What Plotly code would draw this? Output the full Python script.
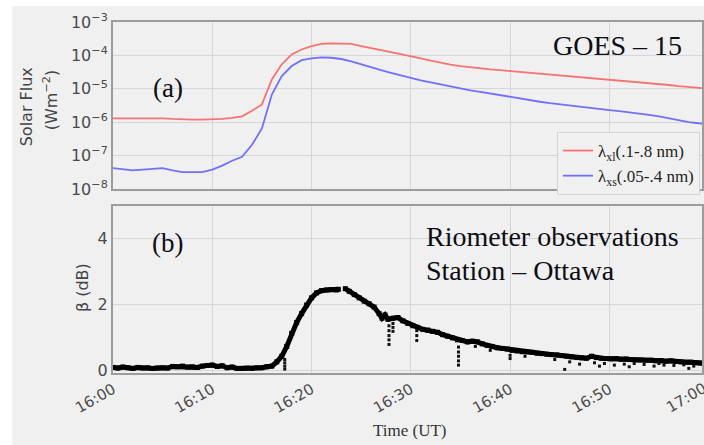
import plotly.graph_objects as go

# ---------------- data ----------------
# GOES-15 X-ray flux, one sample per minute from 16:00 (minutes after 16:00)
goes_min = list(range(0, 61))
flux_xl = [1.3e-6, 1.3e-6, 1.3e-6, 1.3e-6, 1.32e-6, 1.3e-6, 1.25e-6, 1.2e-6, 1.2e-6, 1.2e-6,
           1.2e-6, 1.25e-6, 1.35e-6, 1.5e-6, 2.2e-6, 3.4e-6, 1.9e-5, 5.4e-5, 1.07e-4, 1.5e-4,
           1.9e-4, 2.2e-4, 2.3e-4, 2.3e-4, 2.2e-4, 1.9e-4, 1.7e-4, 1.45e-4, 1.25e-4, 1.1e-4,
           9.5e-5, 8.2e-5, 7.0e-5, 6.0e-5, 5.3e-5, 4.8e-5, 4.4e-5, 4.1e-5, 3.8e-5, 3.6e-5,
           3.4e-5, 3.2e-5, 3.0e-5, 2.8e-5, 2.6e-5, 2.45e-5, 2.3e-5, 2.2e-5, 2.05e-5, 1.95e-5,
           1.85e-5, 1.75e-5, 1.65e-5, 1.55e-5, 1.5e-5, 1.4e-5, 1.3e-5, 1.2e-5, 1.12e-5, 1.05e-5,
           1.0e-5]
flux_xs = [4.2e-8, 3.9e-8, 3.6e-8, 3.8e-8, 4.0e-8, 4.2e-8, 3.6e-8, 3.2e-8, 3.2e-8, 3.2e-8,
           3.8e-8, 5.0e-8, 7.0e-8, 9.2e-8, 2.1e-7, 6.5e-7, 6.7e-6, 2.4e-5, 4.8e-5, 7.2e-5,
           8.2e-5, 8.7e-5, 8.5e-5, 7.8e-5, 6.6e-5, 5.3e-5, 4.3e-5, 3.6e-5, 3.0e-5, 2.5e-5,
           2.05e-5, 1.8e-5, 1.55e-5, 1.35e-5, 1.15e-5, 1.0e-5, 9.0e-6, 8.1e-6, 7.2e-6, 6.3e-6,
           5.6e-6, 5.0e-6, 4.5e-6, 4.1e-6, 3.7e-6, 3.4e-6, 3.1e-6, 2.85e-6, 2.6e-6, 2.45e-6,
           2.3e-6, 2.15e-6, 2.0e-6, 1.8e-6, 1.65e-6, 1.5e-6, 1.3e-6, 1.15e-6, 1.0e-6, 9.3e-7,
           8.8e-7]

# Ottawa riometer absorption (dB); None marks the data gap
rio_min = [0.0, 0.5, 1.0, 1.5, 2.0, 2.5, 3.0, 3.5, 4.0, 4.5, 5.0, 5.5, 6.0, 6.5, 7.0, 7.5,
           8.0, 8.5, 9.0, 9.5, 10.0, 10.5, 11.0, 11.5, 12.0, 12.5, 13.0, 13.5, 14.0, 14.5,
           15.0, 15.5, 16.0, 16.5, 17.0, 17.5, 18.0, 18.5, 19.0, 19.5, 20.0, 20.5, 21.0,
           21.5, 22.0, 22.5, 22.7, 23.0, 23.4, 23.8, 24.3, 24.8, 25.3, 25.8, 26.3, 26.8,
           27.1, 27.4, 27.7, 28.2, 28.7, 29.2, 29.7, 30.2, 30.7, 31.2, 31.7, 32.2, 32.7,
           33.2, 33.7, 34.2, 34.7, 35.2, 35.7, 36.2, 36.7, 37.2, 37.7, 38.2, 38.7, 39.2,
           39.7, 40.2, 40.7, 41.2, 41.7, 42.2, 42.7, 43.2, 43.7, 44.2, 44.7, 45.2, 45.7,
           46.2, 46.7, 47.2, 47.7, 48.2, 48.7, 49.2, 49.7, 50.2, 50.7, 51.2, 51.7, 52.2,
           52.7, 53.2, 53.7, 54.2, 54.7, 55.2, 55.7, 56.2, 56.7, 57.2, 57.7, 58.2, 58.7,
           59.2, 59.7, 60.0]
rio_db = [0.08, 0.06, 0.09, 0.07, 0.05, 0.08, 0.06, 0.07, 0.05, 0.06, 0.07, 0.06, 0.11, 0.10,
          0.12, 0.09, 0.10, 0.08, 0.12, 0.14, 0.15, 0.11, 0.13, 0.07, 0.09, 0.05, 0.05, 0.06,
          0.05, 0.07, 0.07, 0.10, 0.12, 0.25, 0.42, 0.72, 1.12, 1.45, 1.72, 1.98, 2.20, 2.35,
          2.42, 2.44, 2.45, 2.44, 2.46, None, 2.48, 2.40, 2.30, 2.20, 2.10, 2.02, 1.92, 1.72,
          1.58, 1.68, 1.55, 1.58, 1.60, 1.50, 1.42, 1.35, 1.30, 1.24, 1.22, 1.18, 1.15, 1.08,
          1.03, 0.98, 0.92, 0.90, 0.86, 0.88, 0.86, 0.80, 0.75, 0.72, 0.68, 0.66, 0.64, 0.60,
          0.58, 0.56, 0.55, 0.54, 0.51, 0.50, 0.48, 0.47, 0.46, 0.44, 0.42, 0.40, 0.38, 0.37,
          0.36, 0.42, 0.38, 0.36, 0.35, 0.34, 0.35, 0.33, 0.34, 0.32, 0.31, 0.31, 0.30, 0.30,
          0.28, 0.29, 0.27, 0.28, 0.26, 0.25, 0.24, 0.24, 0.22, 0.21, 0.20, 0.20]

# isolated low readings (drop-outs) scattered below the main trace
drop_min = [17.3, 17.3, 17.3, 17.3, 27.8, 27.8, 27.8, 27.8, 27.8, 28.2, 28.2, 28.2,
            30.6, 30.6, 30.6, 34.8, 34.8, 34.8, 34.8, 34.8, 40.0, 40.0, 36.5, 38.0,
            41.5, 44.5, 45.5, 46.0, 47.0, 48.5, 49.0, 49.5, 50.5, 51.5, 52.0, 52.5,
            53.5, 54.5, 55.0, 55.5, 56.5, 57.5, 58.0, 58.5]
drop_db = [0.32, 0.22, 0.12, 0.03, 1.35, 1.2, 1.05, 0.92, 0.78, 1.42, 1.3, 1.18,
           1.2, 1.05, 0.9, 0.7, 0.55, 0.42, 0.28, 0.15, 0.45, 0.35, 0.72, 0.6,
           0.42, 0.32, 0.02, 0.25, 0.18, 0.22, 0.12, 0.2, 0.15, 0.18, 0.1, 0.2,
           0.17, 0.12, 0.2, 0.15, 0.14, 0.16, 0.05, 0.12]

time_ticks = [0, 10, 20, 30, 40, 50]
time_labels = ["16:00", "16:10", "16:20", "16:30", "16:40", "16:50"]
flux_ticks = [1e-8, 1e-7, 1e-6, 1e-5, 1e-4, 1e-3]
flux_labels = ["10<sup>−8</sup>", "10<sup>−7</sup>", "10<sup>−6</sup>",
               "10<sup>−5</sup>", "10<sup>−4</sup>", "10<sup>−3</sup>"]
beta_ticks = [0, 2, 4]

# ---------------- styling ----------------
BG = "#f0f0f0"
GRID = "#d6d6d6"
AXLINE = "#9c9c9c"
TICKC = "#4a4a4a"
SANS = "DejaVu Sans"
SERIF = "Liberation Serif"
INK = "#0d0d14"

fig = go.Figure()

fig.add_trace(go.Scatter(x=goes_min, y=flux_xl, mode="lines",
                         line=dict(color="#f87272", width=1.8),
                         name="λ<sub>xl</sub>(.1-.8 nm)", xaxis="x", yaxis="y"))
fig.add_trace(go.Scatter(x=goes_min, y=flux_xs, mode="lines",
                         line=dict(color="#7070f8", width=1.8),
                         name="λ<sub>xs</sub>(.05-.4 nm)", xaxis="x", yaxis="y"))

fig.add_trace(go.Scatter(x=rio_min, y=rio_db, mode="lines+markers",
                         line=dict(color="black", width=5),
                         marker=dict(color="black", size=5, symbol="square"),
                         connectgaps=False, showlegend=False, xaxis="x2", yaxis="y2"))
fig.add_trace(go.Scatter(x=drop_min, y=drop_db, mode="markers",
                         marker=dict(color="#111111", size=3, symbol="square"),
                         showlegend=False, xaxis="x2", yaxis="y2"))

x_end = 59.33
common_x = dict(range=[0, x_end], tickvals=time_ticks, showgrid=True, gridcolor=GRID,
                gridwidth=1, zeroline=False, showline=True, linecolor=AXLINE,
                linewidth=2, mirror=True, ticks="")

fig.update_layout(
    width=704, height=445,
    margin=dict(l=113, r=0, t=22, b=72),
    paper_bgcolor=BG, plot_bgcolor=BG,
    xaxis=dict(domain=[0, 1], anchor="y", showticklabels=False, **common_x),
    xaxis2=dict(domain=[0, 1], anchor="y2", matches="x", ticktext=time_labels,
                tickangle=-30, tickfont=dict(family=SANS, size=15, color=TICKC),
                **common_x),
    yaxis=dict(domain=[0.5242, 1], anchor="x", type="log", range=[-8, -3],
               tickvals=flux_ticks, ticktext=flux_labels,
               tickfont=dict(family=SANS, size=16, color=TICKC),
               showgrid=True, gridcolor=GRID, zeroline=False, showline=True,
               linecolor=AXLINE, linewidth=2, mirror=True, ticks=""),
    yaxis2=dict(domain=[0, 0.4758], anchor="x2", range=[-0.09, 5.0],
                tickvals=beta_ticks, tickfont=dict(family=SANS, size=16, color=TICKC),
                showgrid=True, gridcolor=GRID, zeroline=False, showline=True,
                linecolor=AXLINE, linewidth=2, mirror=True, ticks=""),
    legend=dict(x=0.9966, xanchor="right", y=0.6866, yanchor="top",
                bgcolor=BG, bordercolor="#d4d4d4", borderwidth=1,
                font=dict(family=SERIF, size=17, color="#222222"),
                tracegroupgap=0, itemwidth=30),
    showlegend=True,
)

# white strips along the top and left edges of the canvas
fig.add_shape(type="rect", xref="paper", yref="paper", x0=-0.25, x1=-0.171,
              y0=-0.3, y1=1.2, fillcolor="white", line_width=0, layer="below")
fig.add_shape(type="rect", xref="paper", yref="paper", x0=-0.25, x1=1.05,
              y0=1.0456, y1=1.2, fillcolor="white", line_width=0, layer="below")


def paper_x(px):
    return (px - 113) / 591.0


def paper_y(py):
    return (373 - py) / 351.0


def label(txt, px, py, size, family, color, angle=0, xanchor="center", yanchor="middle"):
    fig.add_annotation(text=txt, xref="paper", yref="paper", x=paper_x(px), y=paper_y(py),
                       xanchor=xanchor, yanchor=yanchor, textangle=angle,
                       showarrow=False, font=dict(family=family, size=size, color=color))


# panel tags and captions
label("(a)", 168, 88, 27, SERIF, INK)
label("GOES – 15", 619, 45, 28, SERIF, INK)
label("(b)", 168, 243, 27, SERIF, INK)
label("Riometer observations", 425, 236, 28, SERIF, INK, xanchor="left")
label("Station – Ottawa", 425, 270, 28, SERIF, INK, xanchor="left")

# axis titles
label("Solar Flux", 26, 107, 16, SANS, "#444444", angle=-90)
label("(Wm<sup>−2</sup>)", 50, 100, 16, SANS, "#444444", angle=-90)
label("β (dB)", 82, 288, 16, SANS, "#444444", angle=-90)
label("Time (UT)", 411, 430, 17, SERIF, "#333333")

# the 17:00 label sits at the clipped right edge of the time axis
label("17:00", 714, 377, 15, SANS, TICKC, angle=-30, xanchor="right", yanchor="top")

fig.write_html("out.html")
